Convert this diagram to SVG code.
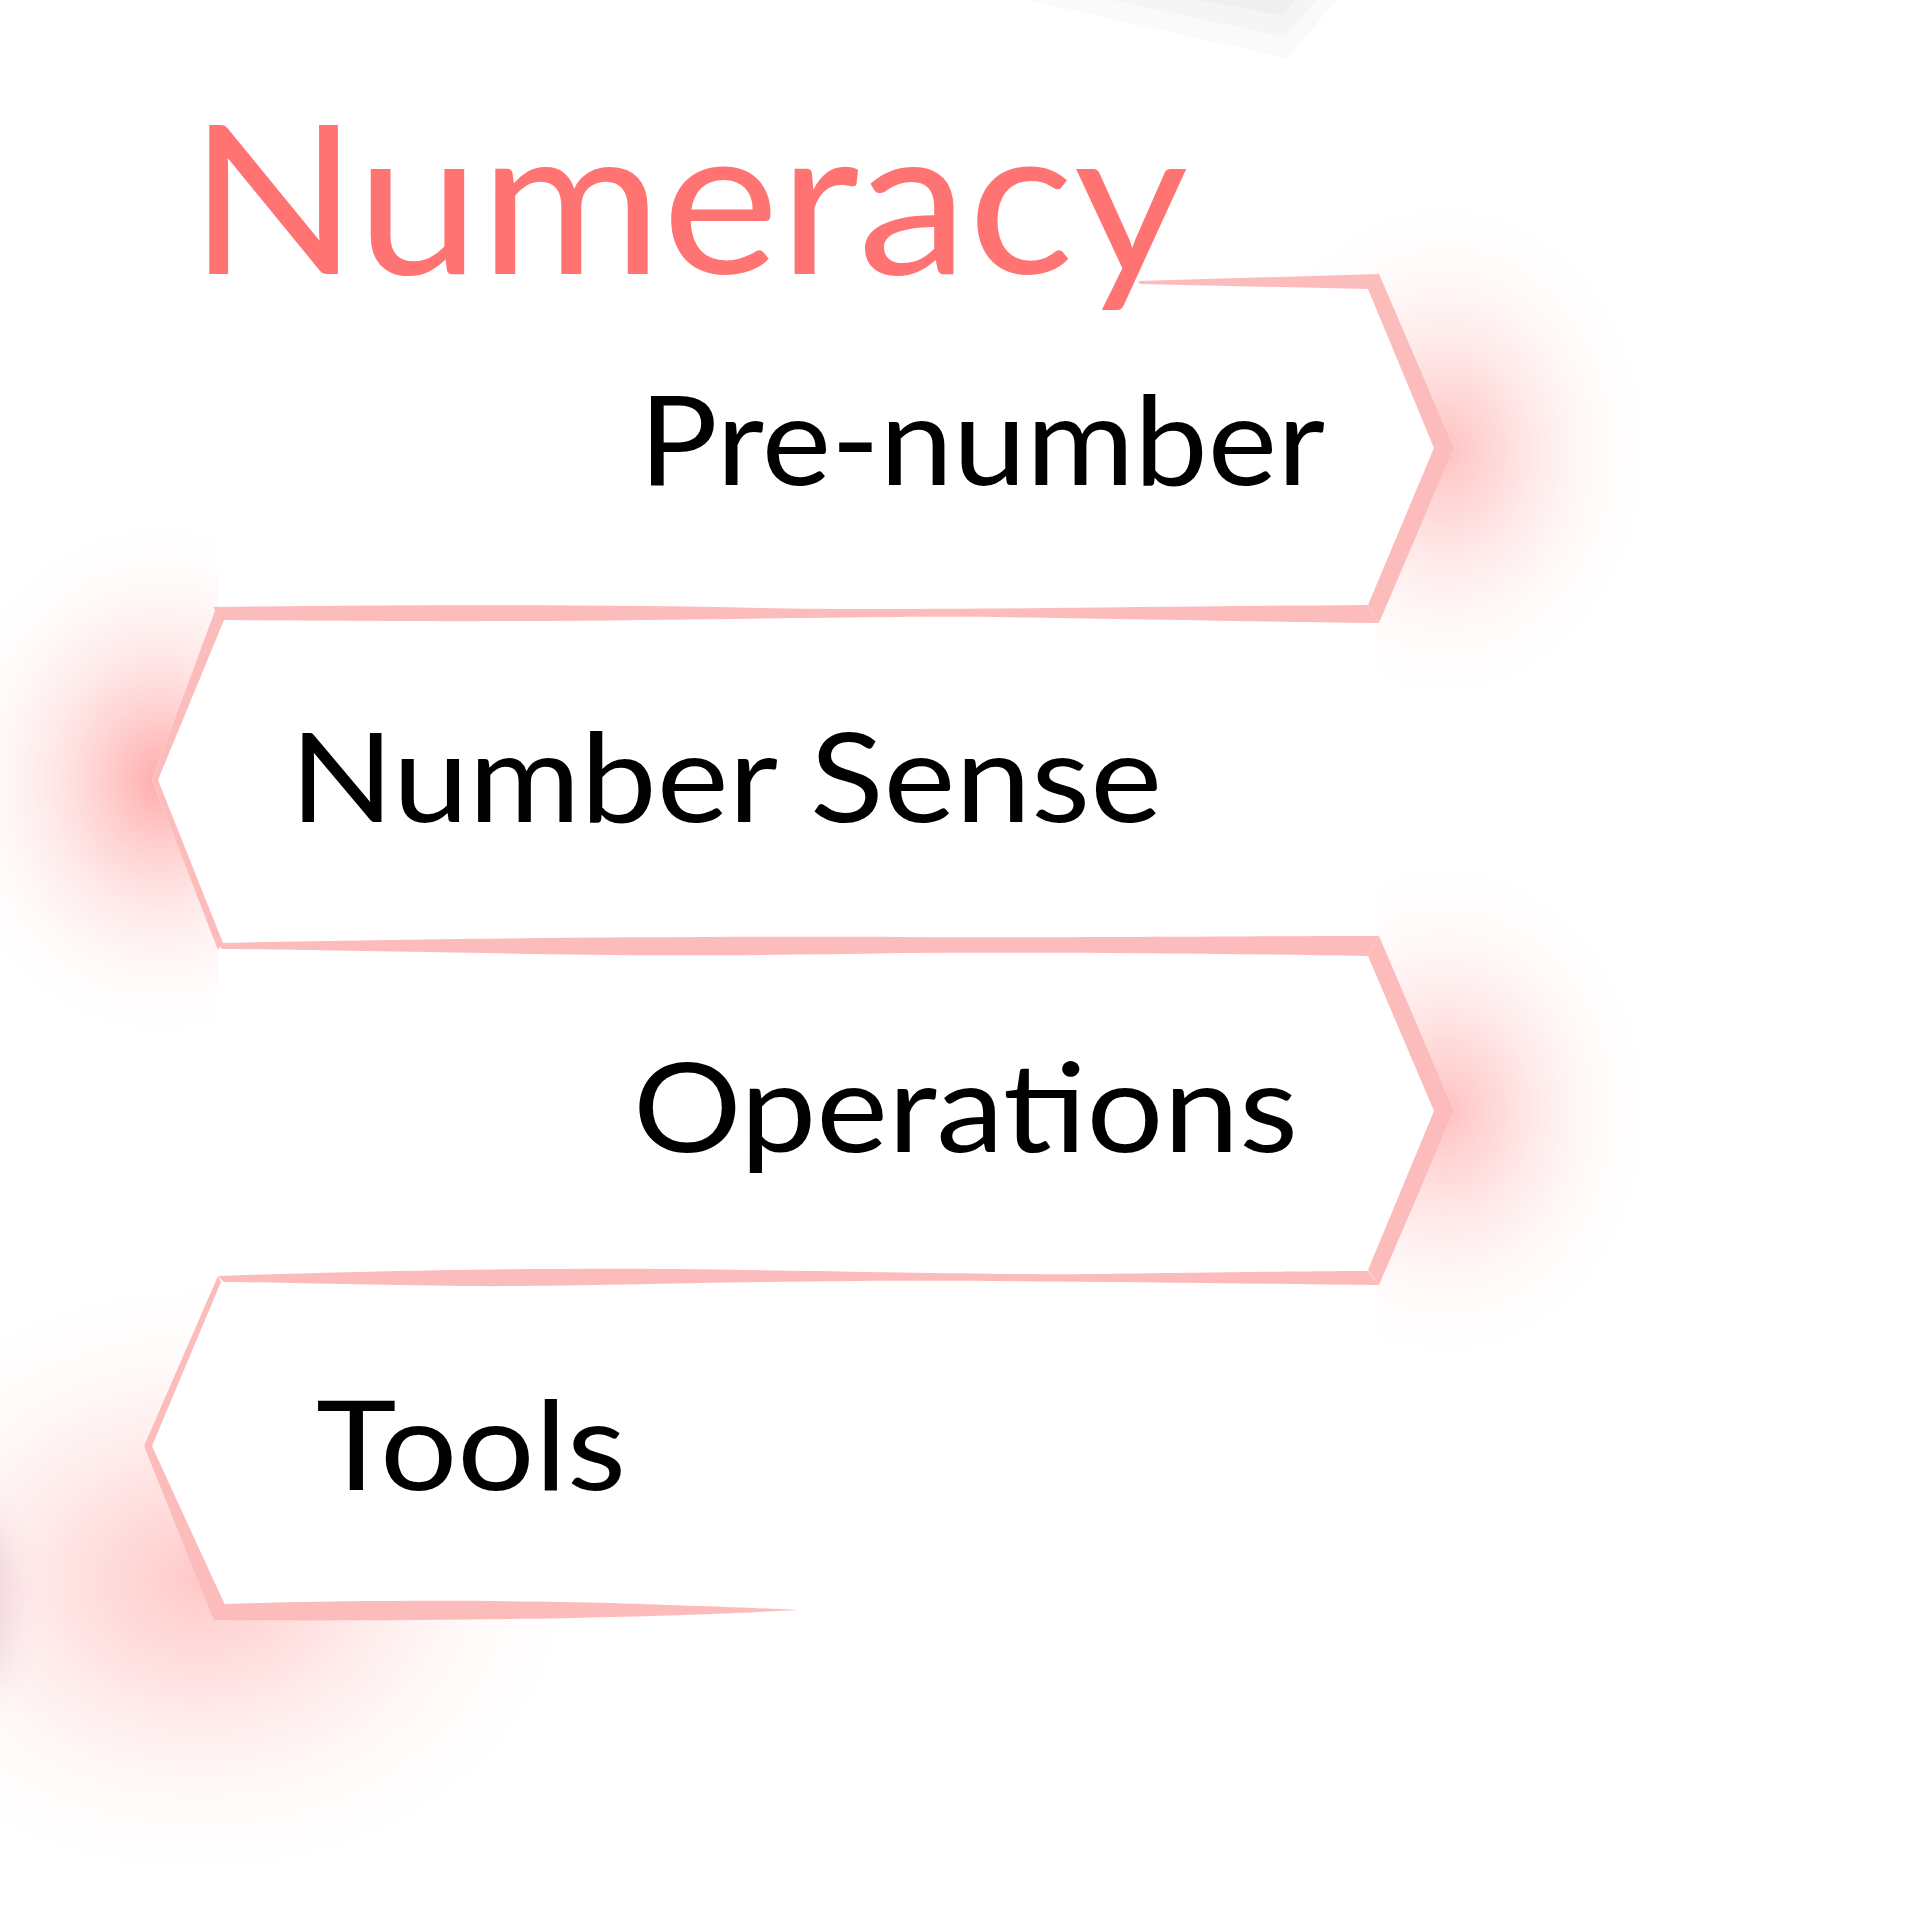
<svg xmlns="http://www.w3.org/2000/svg" width="1919" height="1910" viewBox="0 0 1919 1910">
<style>
.border{fill:#fdbcbc;stroke:none}
.fill{fill:#ffffff;stroke:none}
.label{font-family:Lato,"Liberation Sans",sans-serif;font-size:124px;fill:#000000}
.title{font-family:Lato,"Liberation Sans",sans-serif;font-size:207px;fill:#ff7373}
</style>
<defs>
<radialGradient id="glowR">
<stop offset="0" stop-color="#ffacac" stop-opacity="0.75"/>
<stop offset="0.3" stop-color="#ffc4c4" stop-opacity="0.55"/>
<stop offset="0.6" stop-color="#ffe0e0" stop-opacity="0.32"/>
<stop offset="0.85" stop-color="#fff2f2" stop-opacity="0.12"/>
<stop offset="1" stop-color="#ffffff" stop-opacity="0"/>
</radialGradient>
<radialGradient id="glowL">
<stop offset="0" stop-color="#ff9c9c" stop-opacity="0.85"/>
<stop offset="0.3" stop-color="#ffbaba" stop-opacity="0.6"/>
<stop offset="0.6" stop-color="#ffdada" stop-opacity="0.35"/>
<stop offset="0.85" stop-color="#fff0f0" stop-opacity="0.12"/>
<stop offset="1" stop-color="#ffffff" stop-opacity="0"/>
</radialGradient>
<radialGradient id="glowB">
<stop offset="0" stop-color="#ffb0b0" stop-opacity="0.7"/>
<stop offset="0.35" stop-color="#ffc8c8" stop-opacity="0.5"/>
<stop offset="0.65" stop-color="#ffe2e2" stop-opacity="0.28"/>
<stop offset="0.88" stop-color="#fff3f3" stop-opacity="0.1"/>
<stop offset="1" stop-color="#ffffff" stop-opacity="0"/>
</radialGradient>
<filter id="blur" x="-100%" y="-100%" width="300%" height="300%"><feGaussianBlur stdDeviation="18"/></filter>
</defs>
<rect width="1919" height="1910" fill="#ffffff"/>
<g id="corner-shape">
<polygon points="1028,0 1287,58 1337,0" fill="#fafafa"/>
<polygon points="1111,0 1285,37 1316,0" fill="#f5f5f5"/>
<polygon points="1199,0 1282,16 1295,0" fill="#efefef"/>
</g>
<g id="glows">
<ellipse cx="1445" cy="450" rx="215" ry="260" fill="url(#glowR)"/>
<ellipse cx="160" cy="780" rx="230" ry="270" fill="url(#glowL)"/>
<ellipse cx="1445" cy="1111" rx="215" ry="260" fill="url(#glowR)"/>
<ellipse cx="200" cy="1580" rx="390" ry="310" fill="url(#glowB)"/>
<ellipse cx="-25" cy="1600" rx="35" ry="90" fill="#c890a4" opacity="0.3" filter="url(#blur)"/>
</g>
<g id="fills">
<path class="fill" d="M218,281 L1379,274 L1454,448 L1379,623 L218,614 Z"/>
<path class="fill" d="M216,608 L1376,605 L1376,950 L218,950 L152,780 Z"/>
<path class="fill" d="M218,943 L1379,936 L1454,1111 L1379,1285 L218,1280 Z"/>
<path class="fill" d="M218,1276 L1376,1271 L1376,1620 L798,1612 L214,1620 L144,1446 Z"/>
</g>
<g id="connectors">
<path class="border" d="M1138,281 L1379,274 L1454,448 L1379,623 L1368,605 L1434,448 L1368,289 L1140,284 Z"/>
<path class="border" d="M213,607 C400,605 600,604 760,608 C900,611 1100,607 1368,605 L1379,623 C1150,620 1000,616 900,617 C750,618 600,622 400,621 L222,620 Z"/>
<path class="border" d="M216,608 L152,780 L218,950 L223,943 L158,780 L224,620 Z"/>
<path class="border" d="M218,943 C400,939 700,936 900,937 C1100,938 1250,936 1379,936 L1368,956 C1200,953 1050,952 900,953 C750,956 600,956 490,953 C350,951 260,949 222,949 Z"/>
<path class="border" d="M1379,936 L1454,1111 L1379,1285 L1368,1270 L1434,1111 L1368,956 Z"/>
<path class="border" d="M218,1276 C400,1270 550,1268 673,1269 C850,1271 1000,1275 1100,1274 C1250,1272 1330,1271 1368,1271 L1379,1285 C1200,1283 1000,1280 857,1281 C700,1282 550,1287 465,1286 C350,1285 260,1282 224,1282 Z"/>
<path class="border" d="M218,1276 L144,1446 L214,1621 L225,1605 L152,1446 L221,1282 Z"/>
<path class="border" d="M225,1604 C350,1600 500,1600 612,1603 C700,1606 760,1608 798,1610 C760,1612 700,1615 612,1617 C500,1620 350,1621 214,1620 Z"/>
</g>
<g id="title"><text class="title" x="189" y="274" textLength="999" lengthAdjust="spacingAndGlyphs">Numeracy</text></g>
<g id="node-prenumber"><text class="label" x="639" y="485" textLength="686" lengthAdjust="spacingAndGlyphs">Pre-number</text></g>
<g id="node-numbersense"><text class="label" x="290" y="822" textLength="872" lengthAdjust="spacingAndGlyphs">Number Sense</text></g>
<g id="node-operations"><text class="label" x="633" y="1152" textLength="665" lengthAdjust="spacingAndGlyphs">Operations</text></g>
<g id="node-tools"><text class="label" x="316" y="1490" textLength="310" lengthAdjust="spacingAndGlyphs">Tools</text></g>
</svg>
